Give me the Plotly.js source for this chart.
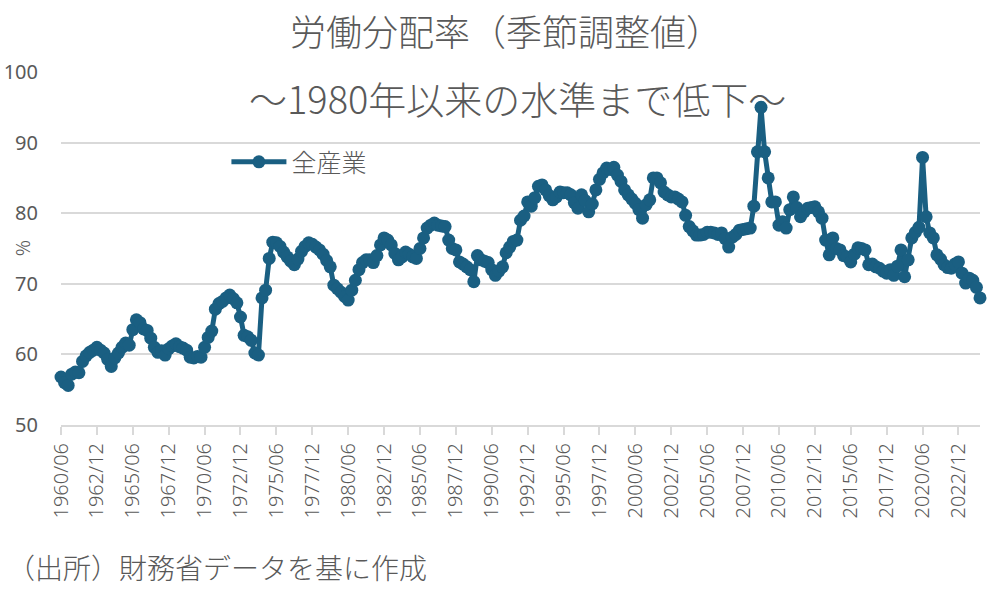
<!DOCTYPE html>
<html>
<head>
<meta charset="utf-8">
<script src="https://cdn.plot.ly/plotly-3.0.1.min.js"></script>
<style>html,body{margin:0;padding:0;background:#fff;}#chart{width:991px;height:589px;}</style>
</head>
<body>
<div id="chart"></div>
<script>
// Quarter labels (1960/06 .. 2024/06)
const startYear = 1960;
const quarterMonths = ["03", "06", "09", "12"];
const categories = [];
(function () {
  let y = startYear, q = 1; // start at June
  for (let k = 0; k < 257; k++) {
    categories.push(y + "/" + quarterMonths[q]);
    q++; if (q > 3) { q = 0; y++; }
  }
})();

// Labour share, all industries (%)
const laborShare = [
  56.8, 56.0, 55.6, 57.2, 57.5, 57.4, 59.0, 59.8, 60.3, 60.6,
  61.0, 60.6, 60.2, 59.3, 58.3, 59.5, 60.2, 61.0, 61.6, 61.3,
  63.5, 64.9, 64.5, 63.6, 63.4, 62.3, 61.0, 60.3, 60.5, 59.9,
  60.8, 61.2, 61.5, 61.1, 60.9, 60.6, 59.6, 59.5, 59.7, 59.6,
  61.0, 62.4, 63.3, 66.4, 67.2, 67.5, 68.0, 68.4, 67.9, 67.3,
  65.3, 62.7, 62.5, 62.0, 60.2, 59.9, 68.0, 69.1, 73.6, 75.9,
  75.8, 75.3, 74.5, 73.8, 73.2, 72.7, 73.5, 74.6, 75.3, 75.8,
  75.6, 75.2, 74.8, 74.2, 73.3, 72.4, 69.8, 69.3, 68.8, 68.2,
  67.7, 69.1, 70.5, 72.0, 73.0, 73.4, 73.4, 73.0, 74.0, 75.5,
  76.5, 76.2, 75.5, 74.3, 73.4, 73.8, 74.5, 74.2, 73.8, 73.6,
  75.0, 76.5, 77.9, 78.3, 78.6, 78.3, 78.2, 78.1, 76.2, 75.0,
  74.8, 73.1, 72.8, 72.4, 72.0, 70.3, 74.0, 73.4, 73.2, 73.0,
  72.0, 71.2, 71.8, 72.4, 74.4, 75.2, 76.0, 76.2, 79.0, 79.6,
  81.6, 81.0, 82.2, 83.8, 84.0, 83.3, 82.5, 81.9, 82.3, 83.0,
  82.9, 82.9, 82.6, 81.5, 80.7, 82.6, 81.8, 80.2, 81.3, 83.3,
  84.8, 85.7, 86.4, 86.2, 86.5, 85.4, 84.5, 83.3, 82.6, 82.0,
  81.4, 80.5, 79.3, 81.2, 81.9, 85.0, 85.0, 84.3, 83.0, 82.6,
  82.3, 82.3, 82.0, 81.6, 79.7, 78.1, 77.5, 76.9, 76.9, 77.0,
  77.3, 77.3, 77.2, 77.0, 77.2, 76.4, 75.2, 76.6, 77.0, 77.6,
  77.7, 77.8, 77.9, 81.0, 88.7, 95.0, 88.7, 85.0, 81.6, 81.6,
  78.3, 78.8, 77.9, 80.5, 82.3, 80.8, 79.5, 80.2, 80.7, 80.8,
  80.9, 80.2, 79.3, 76.2, 74.1, 76.5, 75.0, 74.8, 74.0, 73.8,
  73.1, 74.2, 75.1, 75.0, 74.8, 72.7, 72.8, 72.4, 72.2, 71.8,
  71.5, 72.0, 71.2, 72.5, 74.8, 71.0, 73.4, 76.5, 77.3, 78.0,
  87.9, 79.5, 77.2, 76.5, 74.1, 73.5, 72.7, 72.3, 72.2, 72.8,
  73.1, 71.5, 70.1, 70.8, 70.5, 69.5, 68.0
];

const seriesName = "全産業";
const tickLabels = categories.filter((c, i) => i % 10 === 0);
const yTicks = [50, 60, 70, 80, 90, 100];

const titleLine1 = "労働分配率（季節調整値）";
const titleLine2 = "～1980年以来の水準まで低下～";
const yUnit = "%";
const sourceNote = "（出所）財務省データを基に作成";

const grey = "#595959";
const lineColor = "#1a5f82";
const cjk = "Noto Sans CJK JP, Noto Sans, sans-serif";
const lat = "Noto Sans, Noto Sans CJK JP, sans-serif";

const trace = {
  type: "scatter",
  mode: "lines+markers",
  name: seriesName,
  x: categories,
  y: laborShare,
  line: { color: lineColor, width: 5 },
  marker: { color: lineColor, size: 13 },
  cliponaxis: false
};

const layout = {
  width: 991,
  height: 589,
  margin: { l: 61, r: 11, t: 72, b: 164 },
  paper_bgcolor: "#ffffff",
  plot_bgcolor: "#ffffff",
  font: { family: lat, color: grey, size: 20 },
  showlegend: true,
  legend: {
    x: 0.180, y: 0.81, xanchor: "left", yanchor: "top",
    bgcolor: "rgba(0,0,0,0)",
    itemwidth: 55,
    font: { family: cjk, size: 25, color: grey, weight: 300 }
  },
  xaxis: {
    type: "category",
    range: [0, categories.length - 1],
    tickmode: "array",
    tickvals: tickLabels,
    ticktext: tickLabels,
    tickangle: -90,
    ticks: "outside",
    ticklen: 8,
    tickwidth: 2,
    tickcolor: "#d9d9d9",
    showline: true,
    linecolor: "#d9d9d9",
    linewidth: 2,
    showgrid: false,
    zeroline: false,
    tickfont: { family: lat, size: 20, color: grey, weight: 300 },
    fixedrange: true
  },
  yaxis: {
    range: [50, 100],
    tickmode: "array",
    tickvals: yTicks,
    ticktext: yTicks.map(String),
    showgrid: true,
    gridcolor: "#d9d9d9",
    gridwidth: 2,
    zeroline: false,
    showline: false,
    ticks: "",
    ticklabelstandoff: 22,
    tickfont: { family: lat, size: 20, color: grey },
    fixedrange: true
  },
  annotations: [
    { text: titleLine1, xref: "paper", yref: "paper", x: 0.4842, y: 1.119,
      xanchor: "center", yanchor: "middle", showarrow: false,
      font: { family: cjk, size: 36, color: grey, weight: 300 } },
    { text: titleLine2, xref: "paper", yref: "paper", x: 0.4962, y: 0.929,
      xanchor: "center", yanchor: "middle", showarrow: false,
      font: { family: cjk, size: 38, color: grey, weight: 300 } },
    { text: yUnit, xref: "paper", yref: "paper", x: -0.0424, y: 0.501,
      xanchor: "center", yanchor: "middle", showarrow: false, textangle: -90,
      font: { family: lat, size: 20, color: grey, weight: 300 } },
    { text: sourceNote, xref: "paper", yref: "paper", x: -0.0609, y: -0.402,
      xanchor: "left", yanchor: "middle", showarrow: false,
      font: { family: cjk, size: 28, color: grey, weight: 300 } }
  ]
};

Plotly.newPlot("chart", [trace], layout, { displayModeBar: false, staticPlot: true });
</script>
</body>
</html>
